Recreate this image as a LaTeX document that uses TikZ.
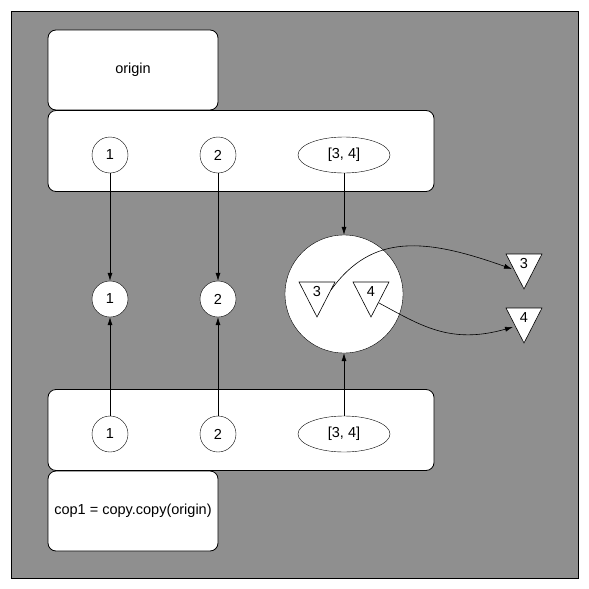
\documentclass[tikz,border=0pt]{standalone}
\usepackage{fontspec}
\setmainfont{Liberation Sans}
\usetikzlibrary{arrows.meta,shapes.geometric,calc}
\definecolor{bggrey}{HTML}{8F8F8F}
\tikzset{
  objbox/.style={draw, fill=white, rounded corners=8pt, line width=0.8pt, inner sep=0pt},
  val/.style={draw, fill=white, circle, minimum size=36pt, inner sep=0pt},
  lst/.style={draw, fill=white, ellipse, minimum width=92pt, minimum height=36pt, inner sep=0pt},
  trishape/.style={draw, fill=white, line width=0.6pt, line join=miter},
  ref/.style={-{Latex[length=8pt,width=5pt]}, line width=0.6pt},
}
\begin{document}
\begin{tikzpicture}[x=1pt,y=-1pt,font=\fontsize{14.5}{16}\selectfont]
        \useasboundingbox (0,0) rectangle (589,589);
        \fill[white] (0,0) rectangle (589,589);
        \draw[fill=bggrey, line width=0.8pt] (11,11) rectangle (578,578);

        % object boxes
        \node[objbox, minimum width=170pt, minimum height=80pt] (origin) at (133,70) {origin};
        \node[objbox, minimum width=386pt, minimum height=81pt] (orig) at (241,151) {};
        \node[objbox, minimum width=386pt, minimum height=81pt] (copy) at (241,430) {};
        \node[objbox, minimum width=170pt, minimum height=80pt] (cop1) at (133,511) {cop1 = copy.copy(origin)};

        % values held by origin
        \node[val] (o1) at (110,155) {1};
        \node[val] (o2) at (218,155) {2};
        \node[lst] (o34) at (344,155) {[3, 4]};

        % shared values
        \node[val] (v1) at (110,299) {1};
        \node[val] (v2) at (218,299) {2};
        \node[draw, fill=white, circle, minimum size=118pt] (vl) at (344,294) {};
        \foreach \n/\x/\y/\t in {t3/317/292/3, t4/371/292/4, r3/524/264/3, r4/524/318/4} {
          \draw[trishape] (\x,\y) +(-18,-10) -- +(18,-10) -- +(0,25) -- cycle;
          \node[inner sep=1pt] (\n) at (\x,\y) {\t};
        }

        % values held by cop1
        \node[val] (c1) at (110,434) {1};
        \node[val] (c2) at (218,434) {2};
        \node[lst] (c34) at (344,434) {[3, 4]};

        % references
        \draw[ref] (o1) -- (v1);
        \draw[ref] (o2) -- (v2);
        \draw[ref] (o34) -- (vl);
        \draw[ref] (c1) -- (v1);
        \draw[ref] (c2) -- (v2);
        \draw[ref] (c34) -- (vl);
        \draw[ref] ($(t3)+(14,-2)$) .. controls (372,233) and (425,238) .. ($(r3)+(-12,5)$);
        \draw[ref] ($(t4)+(8,11)$) .. controls (420,325) and (450,345) .. ($(r4)+(-11,9)$);

\end{tikzpicture}
\end{document}
